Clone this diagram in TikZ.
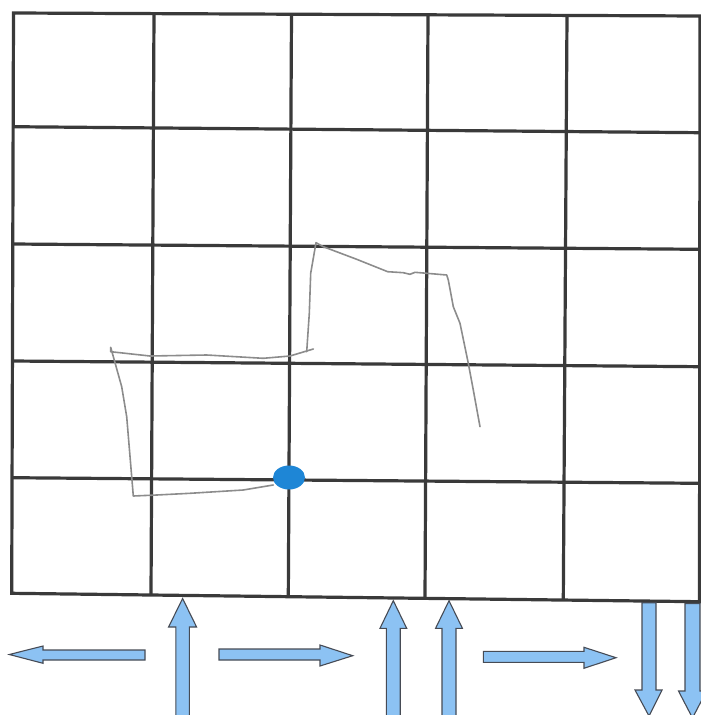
\documentclass[tikz,border=0pt]{standalone}
\usetikzlibrary{shapes.geometric}
\definecolor{gridgray}{RGB}{58,58,58}
\definecolor{pencil}{RGB}{140,140,140}
\definecolor{arrowblue}{RGB}{140,194,243}
\definecolor{arrowedge}{RGB}{70,75,85}
\definecolor{dotblue}{RGB}{30,134,214}
\tikzset{
  gridline/.style={draw=gridgray, line width=3.2pt},
  blockarrow/.style={fill=arrowblue, draw=arrowedge, line width=1.1pt, line join=miter},
  pencilline/.style={draw=pencil, line width=1.6pt, line join=round, line cap=round},
}
\begin{document}
\begin{tikzpicture}[x=1pt,y=-1pt]
\useasboundingbox (0,0) rectangle (701,715);
\begin{scope}
\clip (0,0) rectangle (701,715);
% grid border
\draw[gridline] (13.5,13) -- (700,16) -- (699.5,601.7) -- (11.7,593.3) -- cycle;
% horizontal interior lines
\draw[gridline] (12.8,126.7) -- (699.8,132.7);
\draw[gridline] (12.6,244.0) -- (699.7,249.3);
\draw[gridline] (12.3,361.0) -- (699.7,366.7);
\draw[gridline] (12.0,477.7) -- (699.6,483.3);
% vertical interior lines
\draw[gridline] (154,13.6) -- (151,595.0);
\draw[gridline] (291.5,14.2) -- (288.3,596.7);
\draw[gridline] (428,14.8) -- (425,598.3);
\draw[gridline] (567,15.4) -- (563.3,600.0);
% pencil path
\draw[pencilline] (273.3,485) -- (243.3,490) -- (190,493.3) -- (156.7,495) -- (133.3,496)
  -- (131.7,476.7) -- (126.7,416.7) -- (121.7,386.7) -- (110.7,347.3)
  -- (110.7,351.7) -- (150,356) -- (206.7,355) -- (263.3,358.3) -- (290,356) -- (313.3,349);
\draw[pencilline] (306.7,351.7) -- (309.3,313.3) -- (310.7,273.3) -- (316,242.7)
  -- (323.3,246.7) -- (356.7,259.3) -- (387.7,271.7) -- (403.3,272.7) -- (410,274.3)
  -- (415,272.3) -- (446.7,275) -- (448.3,280) -- (453.3,306.7) -- (460,323.3)
  -- (468.3,363.3) -- (473.3,390) -- (480,426.7);
% blue dot
\node[ellipse, fill=dotblue, inner sep=0pt, minimum width=32pt, minimum height=24pt] (dot) at (289,477.5) {};
% left arrow
\draw[blockarrow] (9.3,654.5) -- (43,646) -- (43,650) -- (145,650) -- (145,660) -- (43,660) -- (43,663.3) -- cycle;
% right arrows
\draw[blockarrow] (352.7,655.7) -- (320,645) -- (320,649) -- (219,649) -- (219,660) -- (320,660) -- (320,666) -- cycle;
\draw[blockarrow] (616,657.7) -- (584,647.3) -- (584,651.3) -- (483.3,651.3) -- (483.3,662.3) -- (584,662.3) -- (584,668.3) -- cycle;
% up arrows
\draw[blockarrow] (182.6,598.5) -- (196.6,627) -- (189.3,627) -- (189.3,720) -- (175.9,720) -- (175.9,627) -- (168.6,627) -- cycle;
\draw[blockarrow] (393.3,600.7) -- (406.7,628.3) -- (400.2,628.3) -- (400.2,720) -- (386.4,720) -- (386.4,628.3) -- (380,628.3) -- cycle;
\draw[blockarrow] (449,600.7) -- (462.4,628.3) -- (456,628.3) -- (456,720) -- (442,720) -- (442,628.3) -- (435.6,628.3) -- cycle;
% down arrows
\draw[blockarrow] (649,716) -- (662,690) -- (656,690) -- (656,602.7) -- (642,602.7) -- (642,690) -- (635,690) -- cycle;
\draw[blockarrow] (692.5,718) -- (706.5,691) -- (700,691) -- (700,603.5) -- (685,603.5) -- (685,691) -- (678.5,691) -- cycle;
\end{scope}
\end{tikzpicture}
\end{document}
